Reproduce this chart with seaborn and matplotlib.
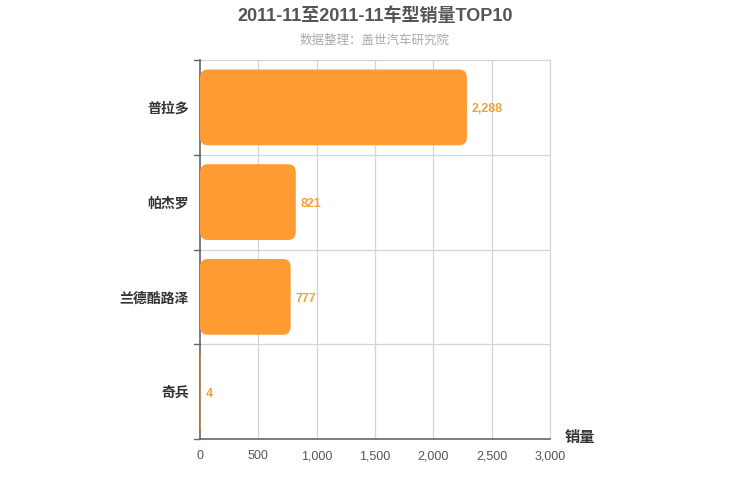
import numpy as np
import pandas as pd
import matplotlib
matplotlib.use('Agg')
import matplotlib.pyplot as plt
from matplotlib.patches import FancyBboxPatch
import seaborn as sns

models = ['普拉多', '帕杰罗', '兰德酷路泽', '奇兵']
sales = [2288, 821, 777, 4]
xticks = [0, 500, 1000, 1500, 2000, 2500, 3000]

sns.set_style('white')
plt.rcParams['font.family'] = ['Liberation Sans', 'Noto Sans CJK SC', 'DejaVu Sans']

df = pd.DataFrame({'model': models, 'sales': sales})

fig = plt.figure(figsize=(7.5, 5), dpi=100)
ax = fig.add_axes([200 / 750, 61 / 500, 350 / 750, 379 / 500])

sns.barplot(data=df, x='sales', y='model', orient='h', color='#FF9B33',
            width=0.8, saturation=1, ax=ax)

ax.set_xlim(0, 3000)
ax.set_ylim(3.5, -0.5)

# rounded corners: swap the seaborn rectangles for rounded boxes
x_per_px = 3000 / 350
y_per_px = 4 / 379
for p in list(ax.patches):
    x, y = p.get_x(), p.get_y()
    w, h = p.get_width(), p.get_height()
    r = min(8 * x_per_px, w / 2)
    box = FancyBboxPatch((x, y), w, h,
                         boxstyle=f'round,pad=0,rounding_size={r}',
                         mutation_aspect=y_per_px / x_per_px,
                         facecolor='#FF9B33', edgecolor='none', zorder=3)
    p.remove()
    ax.add_patch(box)

for i, v in enumerate(sales):
    ax.text(v + 5 * x_per_px, i + 0.02, f'{v:,}', va='center', ha='left',
            fontsize=9, fontweight='bold', color='#F0A03C', zorder=4)

# grid
ax.set_xticks(xticks)
ax.set_xticklabels([f'{t:,}' for t in xticks], fontsize=9, color='#555555')
for t in xticks[1:]:
    ax.axvline(t, color='#d4d4d4', lw=0.9, zorder=0, clip_on=False)
for b in [-0.5, 0.5, 1.5, 2.5]:
    ax.axhline(b, color='#d4d4d4', lw=0.9, zorder=0, clip_on=False)
ax.set_yticks([0, 1, 2, 3])
ax.set_yticklabels(models, fontsize=10, fontweight='bold', color='#333333')
ax.tick_params(axis='y', length=0, pad=8)
ax.tick_params(axis='x', length=5, color='#666666', pad=3)
for b in [-0.5, 0.5, 1.5, 2.5, 3.5]:
    ax.plot([-6 * x_per_px, 0], [b, b], color='#666666', lw=1, clip_on=False)

for s in ['top', 'right']:
    ax.spines[s].set_visible(False)
ax.spines['left'].set_color('#666666')
ax.spines['bottom'].set_color('#666666')
ax.spines['left'].set_linewidth(1.2)
ax.spines['bottom'].set_linewidth(1.2)
ax.set_xlabel('')
ax.set_ylabel('')

fig.text(580 / 750, 1 - 438 / 500, '销量', ha='center', va='center',
         fontsize=11, fontweight='bold', color='#333333')
fig.text(0.5, 1 - 16 / 500, '2011-11至2011-11车型销量TOP10', ha='center',
         va='center', fontsize=13, fontweight='bold', color='#555555')
fig.text(0.5, 1 - 41 / 500, '数据整理：盖世汽车研究院', ha='center',
         va='center', fontsize=9, color='#aaaaaa')

fig.savefig('out.png', dpi=100)
